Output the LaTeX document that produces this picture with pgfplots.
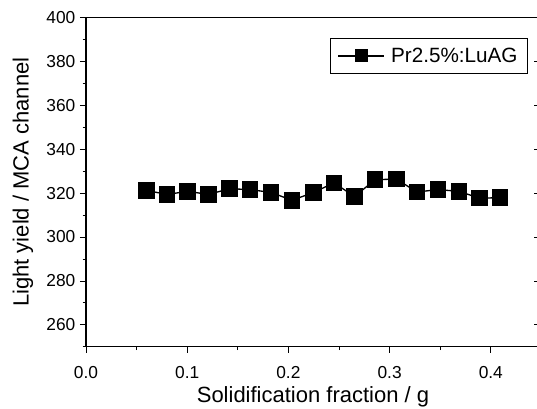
\documentclass[border=0pt]{standalone}
\usepackage{fontspec}
\setmainfont{Liberation Sans}
\usepackage{pgfplots}
\pgfplotsset{compat=1.18}
\usetikzlibrary{calc}
\pgfplotstableread{
x y
0.060 321.2
0.080 319.4
0.1005 320.8
0.121 319.4
0.142 322.0
0.162 321.6
0.183 320.3
0.2036 316.7
0.2246 320.3
0.245 324.6
0.2655 318.5
0.2856 326.1
0.3067 326.4
0.327 320.5
0.348 321.6
0.3684 320.8
0.389 317.7
0.409 317.9
}\datatable
\pgfplotsset{common/.style={
  width=340.5pt, height=247pt, scale only axis,
  xmin=0, xmax=0.4486, ymin=250, ymax=400,
  ytick={260,280,...,400},
  minor ytick={250,270,...,390},
  major tick length=4.5pt, minor tick length=2.5pt,
  every tick/.style={black, line width=0.6pt},
  axis line style={line width=0.8pt},
}}
\begin{document}
\begin{tikzpicture}
\begin{axis}[common, name=ax,
  xtick={0,0.1,0.2,0.3,0.4},
  minor xtick={0.05,0.15,0.25,0.35},
  xticklabel style={yshift=-7pt, /pgf/number format/.cd,fixed,fixed zerofill,precision=1},
  /pgf/number format/assume math mode=true,
  tick label style={font=\fontsize{13}{15}\selectfont},
  label style={font=\fontsize{16.5}{19}\selectfont},
  xlabel={Solidification fraction / g},
  ylabel={Light yield / MCA channel},
  xlabel style={yshift=1pt},
  ylabel style={yshift=3pt},
  xtick pos=bottom, ytick pos=left,
  tick align=outside,
  legend style={at={(rel axis cs:0.9736,0.938)}, anchor=north east,
    font=\fontsize{15.5}{18}\selectfont, draw=black, line width=0.8pt,
    inner xsep=5.5pt, inner ysep=5pt,
    legend image code/.code={\draw[#1, line width=1.3pt] (0cm,0cm) -- (1.2cm,0cm);
      \draw[#1, only marks] plot coordinates {(0.6cm,0cm)};
      \path (1.3cm,0cm);}},
  legend image post style={mark size=4.4pt},
  legend cell align=left,
]
\addplot[black, line width=1pt, mark=square*, mark size=5.7pt, mark options={solid}] table[x=x,y=y]{\datatable};
\addlegendentry{Pr2.5\%:LuAG}
\end{axis}
\begin{axis}[common, axis line style={draw=none}, ytick pos=right, tick align=inside,
  xtick=\empty, yticklabels={}]
\end{axis}
\pgfresetboundingbox
\path[use as bounding box] ($(ax.south west)+(-64.5pt,-46.5pt)$) rectangle ($(ax.north west)+(338.25pt,13.1pt)$);
\end{tikzpicture}
\end{document}
